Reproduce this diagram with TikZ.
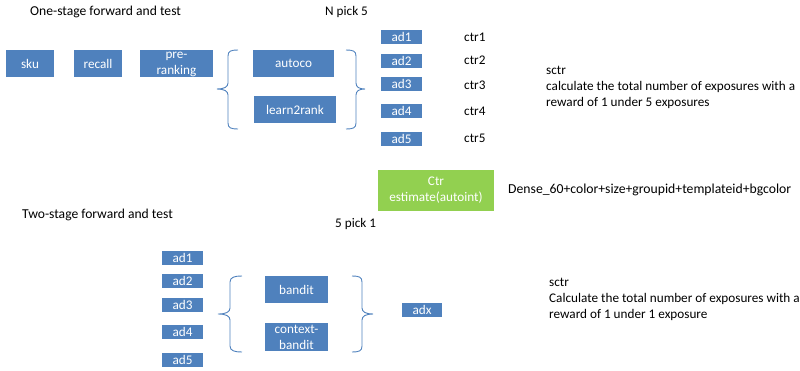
\documentclass[tikz,border=0pt]{standalone}
\usepackage{fontspec}
\setmainfont{Carlito}
\definecolor{boxblue}{HTML}{4F81BD}
\definecolor{boxgreen}{HTML}{92D050}
\begin{document}
\begin{tikzpicture}[x=1pt,y=-1pt,
  font=\fontsize{13.2}{15.8}\selectfont,
  bbox/.style={fill=boxblue,text=white,inner sep=0pt,align=center},
  gbox/.style={fill=boxgreen,text=white,inner sep=0pt,align=center},
  lbl/.style={anchor=west,inner sep=0pt,text=black},
  ttl/.style={lbl,font=\fontsize{13.6}{16}\selectfont},
  brace/.style={draw=boxblue,line width=0.9pt}]
\useasboundingbox (0,0) rectangle (800,370);
% top row
\node[ttl] (t1) at (30,12) {One-stage forward and test};
\node[lbl] (np5) at (325,12) {N pick 5};
\node[bbox,minimum width=48pt,minimum height=27pt] (sku) at (30,63.5) {sku};
\node[bbox,minimum width=48pt,minimum height=27pt] (recall) at (98,63.5) {recall};
\node[bbox,minimum width=73pt,minimum height=27pt] (pre) at (176.5,63.5) {};
\node[text=white,align=center,inner sep=0pt] (pretxt) at (176.5,64.5) {pre-\\ranking};
\node[bbox,minimum width=81pt,minimum height=27pt] (autoco) at (293.5,63.5) {autoco};
\node[bbox,minimum width=82pt,minimum height=27pt] (l2r) at (295,109.5) {learn2rank};
% braces top
\draw[brace] (238,50) .. controls (231,50) and (228,51) .. (228,56) -- (228,83)
  .. controls (228,87) and (224,89) .. (217,89) .. controls (224,89) and (228,91) .. (228,95)
  -- (228,123) .. controls (228,128) and (231,129) .. (238,129);
\draw[brace] (346,50) .. controls (353,50) and (356,51) .. (356,56) -- (356,83)
  .. controls (356,87) and (359,89) .. (365,89) .. controls (359,89) and (356,91) .. (356,95)
  -- (356,123) .. controls (356,128) and (353,129) .. (346,129);
% ad list top
\foreach \i/\y in {1/36.5,2/61,3/84,4/111,5/138.5}{
  \node[bbox,minimum width=41pt,minimum height=14pt] (ta\i) at (401.5,\y) {ad\i};
}
\foreach \i/\y in {1/37,2/60,3/85,4/111,5/138}{
  \node[lbl] (ctr\i) at (464,\y) {ctr\i};
}
\node[lbl,anchor=north west,align=left] (sctr1) at (546,66) {sctr\\calculate the total number of exposures with a\\reward of 1 under 5 exposures};
% ctr estimate
\node[gbox,minimum width=116pt,minimum height=41pt] (ctrest) at (436,190.5) {Ctr\\estimate(autoint)};
\node[lbl,font=\fontsize{13.7}{16}\selectfont] (dense) at (508,190) {Dense\_60+color+size+groupid+templateid+bgcolor};
% bottom
\node[ttl] (t2) at (22,215) {Two-stage forward and test};
\node[lbl] (p51) at (335,224) {5 pick 1};
\foreach \i/\y in {1/258,2/281,3/305,4/332,5/359.5}{
  \node[bbox,minimum width=41pt,minimum height=14pt] (ba\i) at (182.5,\y) {ad\i};
}
\draw[brace] (242,276) .. controls (235,276) and (230,277) .. (230,282) -- (230,308)
  .. controls (230,312) and (226,314) .. (218,314) .. controls (226,314) and (230,316) .. (230,320)
  -- (230,346) .. controls (230,351) and (235,352) .. (242,352);
\draw[brace] (352,276) .. controls (359,276) and (362,277) .. (362,282) -- (362,308)
  .. controls (362,312) and (366,314) .. (373,314) .. controls (366,314) and (362,316) .. (362,320)
  -- (362,346) .. controls (362,351) and (359,352) .. (352,352);
\node[bbox,minimum width=63pt,minimum height=27pt] (bandit) at (296.5,289.5) {bandit};
\node[bbox,minimum width=63pt,minimum height=28pt] (cbandit) at (296.5,337) {context-\\bandit};
\node[bbox,minimum width=40pt,minimum height=14pt] (adx) at (422,310) {adx};
\node[lbl,anchor=north west,align=left] (sctr2) at (549,278) {sctr\\Calculate the total number of exposures with a\\reward of 1 under 1 exposure};
\end{tikzpicture}
\end{document}
